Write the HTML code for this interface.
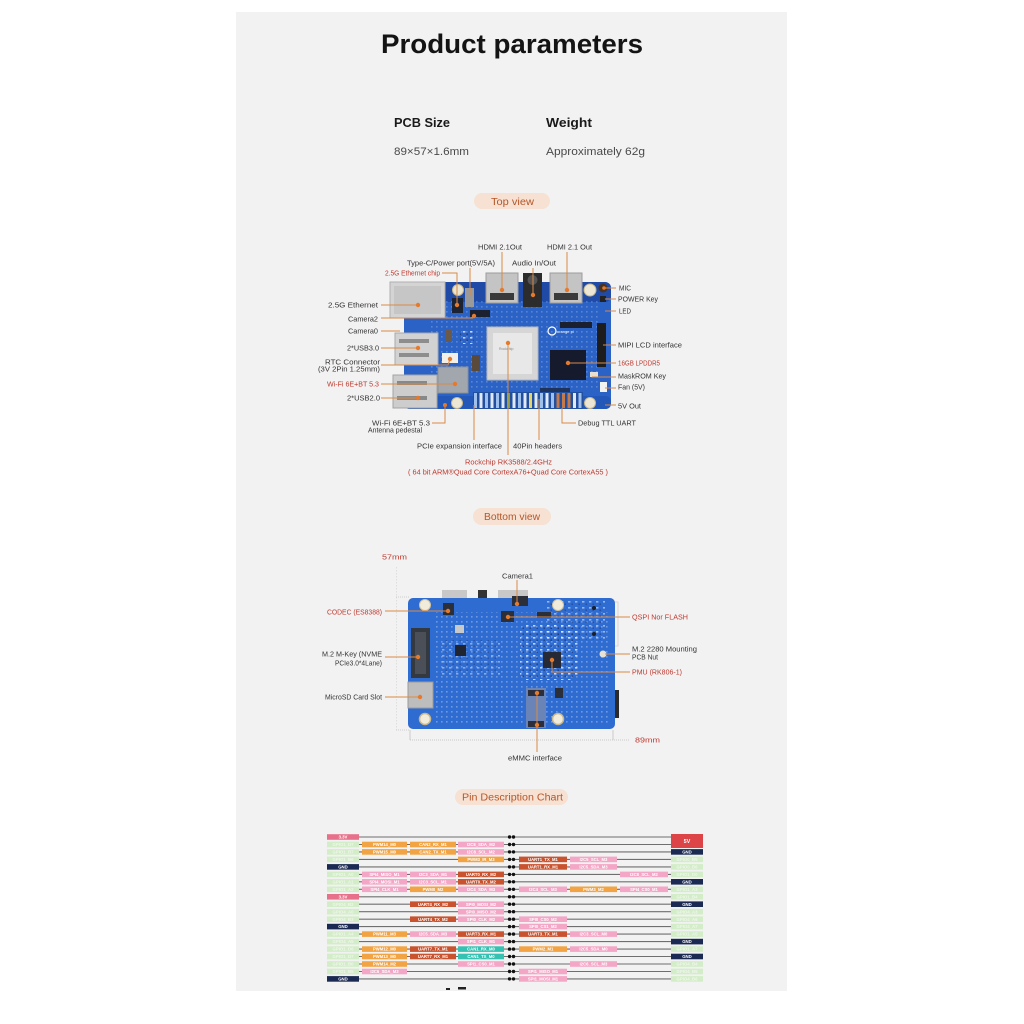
<!DOCTYPE html>
<html>
<head>
<meta charset="utf-8">
<style>
  html,body{margin:0;padding:0;background:#ffffff;}
  body{width:1024px;height:1024px;overflow:hidden;position:relative;}
  svg{position:absolute;left:0;top:0;}
  text{font-family:"Liberation Sans", "DejaVu Sans", sans-serif;}
</style>
</head>
<body>
<svg width="1024" height="1024" viewBox="0 0 1024 1024" xmlns="http://www.w3.org/2000/svg">
  <defs>
    <pattern id="pads" width="5" height="5" patternUnits="userSpaceOnUse">
      <rect x="1" y="1" width="1.6" height="1.6" fill="#d9e4f5" opacity="0.75"/>
    </pattern>
    <pattern id="pads2" width="7" height="6" patternUnits="userSpaceOnUse">
      <rect x="1" y="1" width="2.4" height="1.6" fill="#e8eef8" opacity="0.8"/>
      <rect x="4.5" y="3.5" width="1.4" height="1.4" fill="#1c2f66" opacity="0.8"/>
    </pattern>
    <pattern id="dotv" width="2" height="3" patternUnits="userSpaceOnUse">
      <rect x="0" y="0" width="1" height="1.5" fill="#c9c9c9"/>
    </pattern>
  </defs>

  <!-- panel -->
  <rect x="236" y="12" width="551" height="979" fill="#f2f2f2"/>

  <!-- title -->
  <text x="381" y="53" font-size="27" font-weight="bold" fill="#141414" textLength="262" lengthAdjust="spacingAndGlyphs">Product parameters</text>

  <text x="394" y="127" font-size="13" font-weight="bold" fill="#1a1a1a" textLength="56" lengthAdjust="spacingAndGlyphs">PCB Size</text>
  <text x="546" y="127" font-size="13" font-weight="bold" fill="#1a1a1a" textLength="46" lengthAdjust="spacingAndGlyphs">Weight</text>
  <text x="394" y="155" font-size="11" fill="#4a4a4a" textLength="75" lengthAdjust="spacingAndGlyphs">89×57×1.6mm</text>
  <text x="546" y="155" font-size="11" fill="#4a4a4a" textLength="99" lengthAdjust="spacingAndGlyphs">Approximately 62g</text>

  <!-- Top view pill -->
  <rect x="474" y="193" width="76" height="16" rx="8" fill="#f6e1d2"/>
  <text x="491" y="205" font-size="10" fill="#b5572a" textLength="43" lengthAdjust="spacingAndGlyphs">Top view</text>

  <!-- ================= TOP VIEW BOARD ================= -->
  <g>
    <rect x="404" y="282" width="207" height="127" rx="6" fill="#2b62c6"/>
    <rect x="404" y="282" width="207" height="20" rx="6" fill="#1f4aa6"/>
    <rect x="404" y="396" width="207" height="13" rx="5" fill="#2458b8"/>
    <rect x="430" y="300" width="170" height="90" fill="url(#pads)" opacity="0.35"/>
    <!-- ethernet -->
    <rect x="390" y="282" width="55" height="36" fill="#d4d4d4" stroke="#b0b0b0" stroke-width="1"/>
    <rect x="394" y="286" width="47" height="28" fill="#c6c6c6"/>
    <!-- usb3 -->
    <rect x="395" y="333" width="43" height="32" fill="#d2d2d2" stroke="#a9a9a9" stroke-width="1"/>
    <rect x="399" y="339" width="30" height="4" fill="#8d8d8d"/>
    <rect x="399" y="353" width="30" height="4" fill="#8d8d8d"/>
    <!-- usb2 -->
    <rect x="393" y="375" width="44" height="33" fill="#cdcdcd" stroke="#a4a4a4" stroke-width="1"/>
    <rect x="397" y="381" width="30" height="4" fill="#888"/>
    <rect x="397" y="396" width="30" height="4" fill="#888"/>
    <!-- top connectors -->
    <rect x="465" y="288" width="9" height="19" fill="#9a9a9a"/>
    <rect x="452" y="298" width="11" height="15" fill="#1c2433"/>
    <circle cx="458" cy="290" r="5.5" fill="#e9e3cf" stroke="#c9b98a" stroke-width="1"/>
    <rect x="486" y="273" width="32" height="30" fill="#c4c4c4" stroke="#9c9c9c" stroke-width="1"/>
    <rect x="490" y="293" width="24" height="7" fill="#3a3a3a"/>
    <rect x="523" y="273" width="19" height="34" fill="#2c2c2c"/>
    <circle cx="532.5" cy="280" r="5" fill="#555"/>
    <rect x="550" y="273" width="32" height="30" fill="#c4c4c4" stroke="#9c9c9c" stroke-width="1"/>
    <rect x="554" y="293" width="24" height="7" fill="#3a3a3a"/>
    <circle cx="590" cy="290" r="6" fill="#ece6d5" stroke="#c9b98a" stroke-width="1"/>
    <circle cx="603" cy="288" r="4.5" fill="#4a3320"/>
    <rect x="600" y="296" width="6" height="6" fill="#222"/>
    <rect x="470" y="310" width="20" height="7" fill="#1b2130"/>
    <!-- small parts -->
    <rect x="446" y="330" width="6" height="12" fill="#6b5a4a"/>
    <rect x="460" y="330" width="14" height="14" fill="url(#pads2)"/>
    <rect x="442" y="353" width="16" height="10" fill="#f1efe8"/>
    <rect x="438" y="367" width="30" height="26" fill="#a2a7ae" stroke="#8b9096" stroke-width="1"/>
    <rect x="472" y="355" width="8" height="16" fill="#5a4a3c"/>
    <rect x="560" y="322" width="32" height="6" fill="#1a2030"/>
    <rect x="540" y="388" width="30" height="4" fill="#1a2030" opacity="0.7"/>
    <!-- SoC -->
    <rect x="487" y="327" width="51" height="53" fill="#d6d6d6" stroke="#b5b5b5" stroke-width="1"/>
    <rect x="493" y="333" width="39" height="41" fill="#e8e8e8"/>
    <text x="499" y="350" font-size="3.5" fill="#888">Rockchip</text>
    <!-- logo -->
    <circle cx="552" cy="331" r="4" fill="none" stroke="#ffffff" stroke-width="1.2"/>
    <text x="557" y="333" font-size="4" fill="#ffffff">orange pi</text>
    <!-- RAM -->
    <rect x="550" y="350" width="36" height="30" fill="#151b2d"/>
    <!-- MIPI -->
    <rect x="597" y="323" width="9" height="44" fill="#1d1d1d"/>
    <rect x="590" y="372" width="8" height="5" fill="#e6e0d0"/>
    <rect x="600" y="382" width="7" height="10" fill="#f2f2f2"/>
    <!-- holes bottom -->
    <circle cx="457" cy="403" r="5.5" fill="#ece6d5" stroke="#c9b98a" stroke-width="1"/>
    <circle cx="590" cy="403" r="5.5" fill="#ece6d5" stroke="#c9b98a" stroke-width="1"/>
    <!-- 40 pin header -->
    <g>
      <rect x="473" y="392" width="110" height="17" fill="#224f9e"/>
      <rect x="474" y="393" width="3" height="15" fill="#9ec0ec"/>
      <rect x="479.5" y="393" width="3" height="15" fill="#dfe9f7"/>
      <rect x="485" y="393" width="3" height="15" fill="#9ec0ec"/>
      <rect x="490.5" y="393" width="3" height="15" fill="#dfe9f7"/>
      <rect x="496" y="393" width="3" height="15" fill="#9ec0ec"/>
      <rect x="501.5" y="393" width="3" height="15" fill="#dfe9f7"/>
      <rect x="507" y="393" width="3" height="15" fill="#63b04a"/>
      <rect x="512.5" y="393" width="3" height="15" fill="#dfe9f7"/>
      <rect x="518" y="393" width="3" height="15" fill="#9ec0ec"/>
      <rect x="523.5" y="393" width="3" height="15" fill="#dfe9f7"/>
      <rect x="529" y="393" width="3" height="15" fill="#e6d66a"/>
      <rect x="534.5" y="393" width="3" height="15" fill="#dfe9f7"/>
      <rect x="540" y="393" width="3" height="15" fill="#9ec0ec"/>
      <rect x="545.5" y="393" width="3" height="15" fill="#dfe9f7"/>
      <rect x="551" y="393" width="3" height="15" fill="#9ec0ec"/>
      <rect x="556.5" y="393" width="3" height="15" fill="#c47a4a"/>
      <rect x="562" y="393" width="3" height="15" fill="#c47a4a"/>
      <rect x="567.5" y="393" width="3" height="15" fill="#c47a4a"/>
      <rect x="573" y="393" width="3" height="15" fill="#dfe9f7"/>
      <rect x="578.5" y="393" width="3" height="15" fill="#9ec0ec"/>
    </g>
  </g>

  <!-- top view leader lines -->
  <g stroke="#d98a46" stroke-width="1" fill="none">
    <polyline points="502,252 502,290"/>
    <polyline points="567,252 567,290"/>
    <polyline points="533,268 533,295"/>
    <polyline points="470,268 470,296"/>
    <polyline points="442,273 457,273 457,305"/>
    <polyline points="381,305 418,305"/>
    <polyline points="381,318 473,318"/>
    <polyline points="381,331 400,331"/>
    <polyline points="381,348 418,348"/>
    <polyline points="381,365 448,365 450,359"/>
    <polyline points="381,384 455,384"/>
    <polyline points="381,398 418,398"/>
    <polyline points="432,423 445,423 445,405"/>
    <polyline points="474,440 474,405"/>
    <polyline points="508,455 508,343"/>
    <polyline points="539,440 539,399"/>
    <polyline points="576,423 562,423 562,408"/>
    <polyline points="616,288 604,288"/>
    <polyline points="616,299 605,299"/>
    <polyline points="616,311 605,311"/>
    <polyline points="616,345 603,345"/>
    <polyline points="616,363 568,363"/>
    <polyline points="616,377 592,377"/>
    <polyline points="616,388 605,388"/>
    <polyline points="616,405 605,405"/>
  </g>
  <g fill="#e57a2c">
    <circle cx="502" cy="290" r="2.2"/>
    <circle cx="567" cy="290" r="2.2"/>
    <circle cx="533" cy="295" r="2.2"/>
    <circle cx="457" cy="305" r="2.2"/>
    <circle cx="418" cy="305" r="2.2"/>
    <circle cx="474" cy="316" r="2.2"/>
    <circle cx="418" cy="348" r="2.2"/>
    <circle cx="450" cy="359" r="2.2"/>
    <circle cx="455" cy="384" r="2.2"/>
    <circle cx="418" cy="398" r="2.2"/>
    <circle cx="445" cy="405" r="2"/>
    <circle cx="508" cy="343" r="2.2"/>
    <circle cx="568" cy="363" r="2.2"/>
    <circle cx="604" cy="288" r="1.8"/>
  </g>

  <!-- top view labels -->
  <g font-size="7.5" fill="#333">
    <text x="478" y="249.5" textLength="44" lengthAdjust="spacingAndGlyphs">HDMI 2.1Out</text>
    <text x="547" y="249.5" textLength="45" lengthAdjust="spacingAndGlyphs">HDMI 2.1 Out</text>
    <text x="407" y="265.5" textLength="88" lengthAdjust="spacingAndGlyphs">Type-C/Power port(5V/5A)</text>
    <text x="512" y="265.5" textLength="44" lengthAdjust="spacingAndGlyphs">Audio In/Out</text>
    <text x="385" y="275.5" fill="#c0392f" textLength="55" lengthAdjust="spacingAndGlyphs">2.5G Ethernet chip</text>
    <text x="328" y="307.5" textLength="50" lengthAdjust="spacingAndGlyphs">2.5G Ethernet</text>
    <text x="348" y="321.5" textLength="30" lengthAdjust="spacingAndGlyphs">Camera2</text>
    <text x="348" y="333.5" textLength="30" lengthAdjust="spacingAndGlyphs">Camera0</text>
    <text x="347" y="350.5" textLength="32" lengthAdjust="spacingAndGlyphs">2*USB3.0</text>
    <text x="325" y="364.5" textLength="55" lengthAdjust="spacingAndGlyphs">RTC Connector</text>
    <text x="318" y="371.5" textLength="62" lengthAdjust="spacingAndGlyphs">(3V 2Pin 1.25mm)</text>
    <text x="327" y="386.5" fill="#c0392f" textLength="52" lengthAdjust="spacingAndGlyphs">Wi-Fi 6E+BT 5.3</text>
    <text x="347" y="400.5" textLength="33" lengthAdjust="spacingAndGlyphs">2*USB2.0</text>
    <text x="372" y="425.5" textLength="58" lengthAdjust="spacingAndGlyphs">Wi-Fi 6E+BT 5.3</text>
    <text x="368" y="432.5" textLength="54" lengthAdjust="spacingAndGlyphs">Antenna pedestal</text>
    <text x="417" y="448.5" textLength="85" lengthAdjust="spacingAndGlyphs">PCIe expansion interface</text>
    <text x="513" y="448.5" textLength="49" lengthAdjust="spacingAndGlyphs">40Pin headers</text>
    <text x="465" y="464.5" fill="#c0392f" textLength="87" lengthAdjust="spacingAndGlyphs">Rockchip RK3588/2.4GHz</text>
    <text x="408" y="474.5" fill="#c0392f" textLength="200" lengthAdjust="spacingAndGlyphs">( 64 bit ARM®Quad Core CortexA76+Quad Core CortexA55 )</text>
    <text x="619" y="290.5" textLength="12" lengthAdjust="spacingAndGlyphs">MIC</text>
    <text x="618" y="301.5" textLength="40" lengthAdjust="spacingAndGlyphs">POWER Key</text>
    <text x="619" y="313.5" textLength="12" lengthAdjust="spacingAndGlyphs">LED</text>
    <text x="618" y="347.5" textLength="64" lengthAdjust="spacingAndGlyphs">MIPI LCD interface</text>
    <text x="618" y="365.5" fill="#c0392f" textLength="42" lengthAdjust="spacingAndGlyphs">16GB LPDDR5</text>
    <text x="618" y="378.5" textLength="48" lengthAdjust="spacingAndGlyphs">MaskROM Key</text>
    <text x="618" y="389.5" textLength="27" lengthAdjust="spacingAndGlyphs">Fan (5V)</text>
    <text x="618" y="408.5" textLength="23" lengthAdjust="spacingAndGlyphs">5V Out</text>
    <text x="578" y="425.5" textLength="58" lengthAdjust="spacingAndGlyphs">Debug TTL UART</text>
  </g>

  <!-- Bottom view pill -->
  <rect x="473" y="508" width="78" height="17" rx="8.5" fill="#f6e1d2"/>
  <text x="484" y="520" font-size="10" fill="#b5572a" textLength="56" lengthAdjust="spacingAndGlyphs">Bottom view</text>

  <!-- ================= BOTTOM VIEW BOARD ================= -->
  <g>
    <!-- dimension dotted lines -->
    <rect x="395.5" y="566" width="1" height="165" fill="url(#dotv)"/>
    <line x1="396" y1="597" x2="410" y2="597" stroke="#cfcfcf" stroke-width="1" stroke-dasharray="1,1"/>
    <line x1="396" y1="730" x2="410" y2="730" stroke="#cfcfcf" stroke-width="1" stroke-dasharray="1,1"/>
    <line x1="410" y1="740" x2="630" y2="740" stroke="#c9c9c9" stroke-width="1" stroke-dasharray="1,1"/>
    <line x1="410" y1="730" x2="410" y2="740" stroke="#c9c9c9" stroke-width="1"/>
    <line x1="613" y1="730" x2="613" y2="740" stroke="#c9c9c9" stroke-width="1"/>

    <!-- top edge connectors -->
    <rect x="442" y="590" width="25" height="9" fill="#c8c8c8"/>
    <rect x="478" y="590" width="9" height="9" fill="#333"/>
    <rect x="498" y="590" width="30" height="9" fill="#c8c8c8"/>
    <rect x="613" y="602" width="5" height="44" fill="#f2f2f2" stroke="#cfcfcf" stroke-width="0.8"/>
    <rect x="613" y="690" width="6" height="28" fill="#2b2b2b"/>

    <rect x="408" y="598" width="207" height="131" rx="5" fill="#2f6cd2"/>
    <rect x="435" y="612" width="175" height="112" fill="url(#pads)" opacity="0.5"/>
    <rect x="520" y="625" width="58" height="55" rx="6" fill="url(#pads2)"/>
    <rect x="545" y="600" width="60" height="40" fill="url(#pads2)" opacity="0.7"/>
    <rect x="440" y="640" width="60" height="35" fill="url(#pads2)" opacity="0.6"/>
    <!-- holes -->
    <circle cx="425" cy="605" r="5.5" fill="#f1ebdb" stroke="#d4c49a" stroke-width="1"/>
    <circle cx="558" cy="605" r="5.5" fill="#f1ebdb" stroke="#d4c49a" stroke-width="1"/>
    <circle cx="425" cy="719" r="5.5" fill="#f1ebdb" stroke="#c9b98a" stroke-width="1.5"/>
    <circle cx="558" cy="719" r="5.5" fill="#f1ebdb" stroke="#c9b98a" stroke-width="1.5"/>
    <!-- M.2 -->
    <rect x="411" y="628" width="19" height="50" fill="#34383f"/>
    <rect x="415" y="632" width="11" height="42" fill="#4b5058"/>
    <!-- SD -->
    <rect x="408" y="682" width="25" height="26" fill="#bdbdbd" stroke="#9a9a9a" stroke-width="1"/>
    <!-- chips -->
    <rect x="443" y="603" width="11" height="12" fill="#2a2f3a"/>
    <rect x="455" y="625" width="9" height="8" fill="#c9c9c9"/>
    <rect x="455" y="645" width="11" height="11" fill="#202532"/>
    <rect x="512" y="596" width="16" height="10" fill="#2a2f3a"/>
    <rect x="501" y="611" width="13" height="11" fill="#2a2f3a"/>
    <rect x="537" y="612" width="14" height="6" fill="#2a2f3a"/>
    <rect x="543" y="652" width="18" height="16" fill="#262a36"/>
    <rect x="526" y="688" width="20" height="40" fill="#6a84b8"/>
    <rect x="528" y="690" width="16" height="6" fill="#2c2f3a"/>
    <rect x="528" y="721" width="16" height="6" fill="#2c2f3a"/>
    <rect x="555" y="688" width="8" height="10" fill="#2a2f3a"/>
    <circle cx="603" cy="654" r="3.5" fill="#e8e2d5"/>
    <circle cx="594" cy="608" r="2" fill="#1a1f2a"/>
    <circle cx="594" cy="634" r="2" fill="#1a1f2a"/>
  </g>

  <!-- bottom leaders -->
  <g stroke="#d98a46" stroke-width="1" fill="none">
    <polyline points="517,580 517,604"/>
    <polyline points="385,611 448,611"/>
    <polyline points="508,617 630,617"/>
    <polyline points="385,657 418,657"/>
    <polyline points="605,654 630,654"/>
    <polyline points="552,660 552,672 630,672"/>
    <polyline points="385,697 420,697"/>
    <polyline points="537,693 537,752"/>
  </g>
  <g fill="#e57a2c">
    <circle cx="517" cy="604" r="2.2"/>
    <circle cx="448" cy="611" r="2.2"/>
    <circle cx="508" cy="617" r="2.2"/>
    <circle cx="418" cy="657" r="2.2"/>
    <circle cx="552" cy="660" r="2.2"/>
    <circle cx="420" cy="697" r="2.2"/>
    <circle cx="537" cy="693" r="2.2"/>
    <circle cx="537" cy="725" r="2.2"/>
  </g>

  <g font-size="7.5" fill="#333">
    <text x="382" y="559.5" fill="#c0392f" textLength="25" lengthAdjust="spacingAndGlyphs">57mm</text>
    <text x="502" y="578.5" textLength="31" lengthAdjust="spacingAndGlyphs">Camera1</text>
    <text x="327" y="614.5" fill="#c0392f" textLength="55" lengthAdjust="spacingAndGlyphs">CODEC (ES8388)</text>
    <text x="632" y="619.5" fill="#c0392f" textLength="56" lengthAdjust="spacingAndGlyphs">QSPI Nor FLASH</text>
    <text x="322" y="656.5" textLength="60" lengthAdjust="spacingAndGlyphs">M.2 M-Key (NVME</text>
    <text x="335" y="665.5" textLength="47" lengthAdjust="spacingAndGlyphs">PCIe3.0*4Lane)</text>
    <text x="632" y="651.5" textLength="65" lengthAdjust="spacingAndGlyphs">M.2 2280 Mounting</text>
    <text x="632" y="659.5" textLength="26" lengthAdjust="spacingAndGlyphs">PCB Nut</text>
    <text x="632" y="674.5" fill="#c0392f" textLength="50" lengthAdjust="spacingAndGlyphs">PMU (RK806-1)</text>
    <text x="325" y="699.5" textLength="57" lengthAdjust="spacingAndGlyphs">MicroSD Card Slot</text>
    <text x="635" y="742.5" fill="#c0392f" textLength="25" lengthAdjust="spacingAndGlyphs">89mm</text>
    <text x="508" y="760.5" textLength="54" lengthAdjust="spacingAndGlyphs">eMMC interface</text>
  </g>

  <!-- Pin Description Chart pill -->
  <rect x="455" y="789" width="113" height="16" rx="8" fill="#f6e1d2"/>
  <text x="462" y="800.5" font-size="10" fill="#b5572a" textLength="101" lengthAdjust="spacingAndGlyphs">Pin Description Chart</text>

  <!-- ================= PIN CHART ================= -->
  <g stroke="#6f6f6f" stroke-width="1.1">
    <line x1="359" y1="837.0" x2="671" y2="837.0"/>
    <line x1="359" y1="844.5" x2="671" y2="844.5"/>
    <line x1="359" y1="851.9" x2="671" y2="851.9"/>
    <line x1="359" y1="859.4" x2="671" y2="859.4"/>
    <line x1="359" y1="866.9" x2="671" y2="866.9"/>
    <line x1="359" y1="874.4" x2="671" y2="874.4"/>
    <line x1="359" y1="881.8" x2="671" y2="881.8"/>
    <line x1="359" y1="889.3" x2="671" y2="889.3"/>
    <line x1="359" y1="896.8" x2="671" y2="896.8"/>
    <line x1="359" y1="904.2" x2="671" y2="904.2"/>
    <line x1="359" y1="911.7" x2="671" y2="911.7"/>
    <line x1="359" y1="919.2" x2="671" y2="919.2"/>
    <line x1="359" y1="926.6" x2="671" y2="926.6"/>
    <line x1="359" y1="934.1" x2="671" y2="934.1"/>
    <line x1="359" y1="941.6" x2="671" y2="941.6"/>
    <line x1="359" y1="949.1" x2="671" y2="949.1"/>
    <line x1="359" y1="956.5" x2="671" y2="956.5"/>
    <line x1="359" y1="964.0" x2="671" y2="964.0"/>
    <line x1="359" y1="971.5" x2="671" y2="971.5"/>
    <line x1="359" y1="978.9" x2="671" y2="978.9"/>
  </g>

  <!-- center dots -->
  <g fill="#111">
    <circle cx="509.5" cy="837.0" r="1.7"/><circle cx="513.5" cy="837.0" r="1.7"/>
    <circle cx="509.5" cy="844.5" r="1.7"/><circle cx="513.5" cy="844.5" r="1.7"/>
    <circle cx="509.5" cy="851.9" r="1.7"/><circle cx="513.5" cy="851.9" r="1.7"/>
    <circle cx="509.5" cy="859.4" r="1.7"/><circle cx="513.5" cy="859.4" r="1.7"/>
    <circle cx="509.5" cy="866.9" r="1.7"/><circle cx="513.5" cy="866.9" r="1.7"/>
    <circle cx="509.5" cy="874.4" r="1.7"/><circle cx="513.5" cy="874.4" r="1.7"/>
    <circle cx="509.5" cy="881.8" r="1.7"/><circle cx="513.5" cy="881.8" r="1.7"/>
    <circle cx="509.5" cy="889.3" r="1.7"/><circle cx="513.5" cy="889.3" r="1.7"/>
    <circle cx="509.5" cy="896.8" r="1.7"/><circle cx="513.5" cy="896.8" r="1.7"/>
    <circle cx="509.5" cy="904.2" r="1.7"/><circle cx="513.5" cy="904.2" r="1.7"/>
    <circle cx="509.5" cy="911.7" r="1.7"/><circle cx="513.5" cy="911.7" r="1.7"/>
    <circle cx="509.5" cy="919.2" r="1.7"/><circle cx="513.5" cy="919.2" r="1.7"/>
    <circle cx="509.5" cy="926.6" r="1.7"/><circle cx="513.5" cy="926.6" r="1.7"/>
    <circle cx="509.5" cy="934.1" r="1.7"/><circle cx="513.5" cy="934.1" r="1.7"/>
    <circle cx="509.5" cy="941.6" r="1.7"/><circle cx="513.5" cy="941.6" r="1.7"/>
    <circle cx="509.5" cy="949.1" r="1.7"/><circle cx="513.5" cy="949.1" r="1.7"/>
    <circle cx="509.5" cy="956.5" r="1.7"/><circle cx="513.5" cy="956.5" r="1.7"/>
    <circle cx="509.5" cy="964.0" r="1.7"/><circle cx="513.5" cy="964.0" r="1.7"/>
    <circle cx="509.5" cy="971.5" r="1.7"/><circle cx="513.5" cy="971.5" r="1.7"/>
    <circle cx="509.5" cy="978.9" r="1.7"/><circle cx="513.5" cy="978.9" r="1.7"/>
  </g>

  <!-- left column boxes -->
  <g>
    <rect x="327" y="834.2" width="32" height="5.6" fill="#e7708a"/>
    <rect x="327" y="841.7" width="32" height="5.6" fill="#d3edc8"/>
    <rect x="327" y="849.1" width="32" height="5.6" fill="#d3edc8"/>
    <rect x="327" y="856.6" width="32" height="5.6" fill="#d3edc8"/>
    <rect x="327" y="864.1" width="32" height="5.6" fill="#1b2a52"/>
    <rect x="327" y="871.6" width="32" height="5.6" fill="#d3edc8"/>
    <rect x="327" y="879.0" width="32" height="5.6" fill="#d3edc8"/>
    <rect x="327" y="886.5" width="32" height="5.6" fill="#d3edc8"/>
    <rect x="327" y="894.0" width="32" height="5.6" fill="#e7708a"/>
    <rect x="327" y="901.4" width="32" height="5.6" fill="#d3edc8"/>
    <rect x="327" y="908.9" width="32" height="5.6" fill="#d3edc8"/>
    <rect x="327" y="916.4" width="32" height="5.6" fill="#d3edc8"/>
    <rect x="327" y="923.8" width="32" height="5.6" fill="#1b2a52"/>
    <rect x="327" y="931.3" width="32" height="5.6" fill="#d3edc8"/>
    <rect x="327" y="938.8" width="32" height="5.6" fill="#d3edc8"/>
    <rect x="327" y="946.3" width="32" height="5.6" fill="#d3edc8"/>
    <rect x="327" y="953.7" width="32" height="5.6" fill="#d3edc8"/>
    <rect x="327" y="961.2" width="32" height="5.6" fill="#d3edc8"/>
    <rect x="327" y="968.7" width="32" height="5.6" fill="#d3edc8"/>
    <rect x="327" y="976.1" width="32" height="5.6" fill="#1b2a52"/>
  </g>
  <g font-size="4.3" font-weight="bold" text-anchor="middle">
    <text x="343" y="838.6" fill="#fff">3.3V</text>
    <text x="343" y="846.1" fill="#eef7ea">GPIO1_D7</text>
    <text x="343" y="853.5" fill="#eef7ea">GPIO1_B7</text>
    <text x="343" y="861.0" fill="#eef7ea">GPIO1_B6</text>
    <text x="343" y="868.5" fill="#fff">GND</text>
    <text x="343" y="876.0" fill="#eef7ea">GPIO1_A0</text>
    <text x="343" y="883.4" fill="#eef7ea">GPIO1_A1</text>
    <text x="343" y="890.9" fill="#eef7ea">GPIO1_A2</text>
    <text x="343" y="898.4" fill="#fff">3.3V</text>
    <text x="343" y="905.8" fill="#eef7ea">GPIO4_B2</text>
    <text x="343" y="913.3" fill="#eef7ea">GPIO4_A0</text>
    <text x="343" y="920.8" fill="#eef7ea">GPIO4_B3</text>
    <text x="343" y="928.2" fill="#fff">GND</text>
    <text x="343" y="935.7" fill="#eef7ea">GPIO1_A4</text>
    <text x="343" y="943.2" fill="#eef7ea">GPIO4_A5</text>
    <text x="343" y="950.7" fill="#eef7ea">GPIO1_D6</text>
    <text x="343" y="958.1" fill="#eef7ea">GPIO1_D7</text>
    <text x="343" y="965.6" fill="#eef7ea">GPIO1_B0</text>
    <text x="343" y="973.1" fill="#eef7ea">GPIO1_B5</text>
    <text x="343" y="980.5" fill="#fff">GND</text>
  </g>

  <!-- right column boxes -->
  <g>
    <rect x="671" y="834" width="32" height="14" fill="#dc4448"/>
    <rect x="671" y="849.1" width="32" height="5.6" fill="#1b2a52"/>
    <rect x="671" y="856.6" width="32" height="5.6" fill="#d3edc8"/>
    <rect x="671" y="864.1" width="32" height="5.6" fill="#d3edc8"/>
    <rect x="671" y="871.6" width="32" height="5.6" fill="#d3edc8"/>
    <rect x="671" y="879.0" width="32" height="5.6" fill="#1b2a52"/>
    <rect x="671" y="886.5" width="32" height="5.6" fill="#d3edc8"/>
    <rect x="671" y="894.0" width="32" height="5.6" fill="#d3edc8"/>
    <rect x="671" y="901.4" width="32" height="5.6" fill="#1b2a52"/>
    <rect x="671" y="908.9" width="32" height="5.6" fill="#d3edc8"/>
    <rect x="671" y="916.4" width="32" height="5.6" fill="#d3edc8"/>
    <rect x="671" y="923.8" width="32" height="5.6" fill="#d3edc8"/>
    <rect x="671" y="931.3" width="32" height="5.6" fill="#d3edc8"/>
    <rect x="671" y="938.8" width="32" height="5.6" fill="#1b2a52"/>
    <rect x="671" y="946.3" width="32" height="5.6" fill="#d3edc8"/>
    <rect x="671" y="953.7" width="32" height="5.6" fill="#1b2a52"/>
    <rect x="671" y="961.2" width="32" height="5.6" fill="#d3edc8"/>
    <rect x="671" y="968.7" width="32" height="5.6" fill="#d3edc8"/>
    <rect x="671" y="976.1" width="32" height="5.6" fill="#d3edc8"/>
  </g>
  <g font-size="4.3" font-weight="bold" text-anchor="middle">
    <text x="687" y="843" fill="#fff" font-size="5.5">5V</text>
    <text x="687" y="853.5" fill="#fff">GND</text>
    <text x="687" y="861.0" fill="#eef7ea">GPIO0_B5</text>
    <text x="687" y="868.5" fill="#eef7ea">GPIO0_B6</text>
    <text x="687" y="876.0" fill="#eef7ea">GPIO1_D0</text>
    <text x="687" y="883.4" fill="#fff">GND</text>
    <text x="687" y="890.9" fill="#eef7ea">GPIO1_A3</text>
    <text x="687" y="898.4" fill="#eef7ea">GPIO1_B4</text>
    <text x="687" y="905.8" fill="#fff">GND</text>
    <text x="687" y="913.3" fill="#eef7ea">GPIO4_A3</text>
    <text x="687" y="920.8" fill="#eef7ea">GPIO4_A6</text>
    <text x="687" y="928.2" fill="#eef7ea">GPIO4_A7</text>
    <text x="687" y="935.7" fill="#eef7ea">GPIO1_A5</text>
    <text x="687" y="943.2" fill="#fff">GND</text>
    <text x="687" y="950.7" fill="#eef7ea">GPIO1_A7</text>
    <text x="687" y="958.1" fill="#fff">GND</text>
    <text x="687" y="965.6" fill="#eef7ea">GPIO4_B4</text>
    <text x="687" y="973.1" fill="#eef7ea">GPIO4_B5</text>
    <text x="687" y="980.5" fill="#eef7ea">GPIO4_B6</text>
  </g>

  <!-- function tags (left) -->
  <g>
    <!-- r2 -->
    <rect x="362" y="841.7" width="45" height="5.6" fill="#f2a444"/>
    <rect x="410" y="841.7" width="46" height="5.6" fill="#f2a444"/>
    <rect x="458" y="841.7" width="46" height="5.6" fill="#f4a6c6"/>
    <!-- r3 -->
    <rect x="362" y="849.1" width="45" height="5.6" fill="#f2a444"/>
    <rect x="410" y="849.1" width="46" height="5.6" fill="#f2a444"/>
    <rect x="458" y="849.1" width="46" height="5.6" fill="#f4a6c6"/>
    <!-- r4 -->
    <rect x="458" y="856.6" width="46" height="5.6" fill="#f2a444"/>
    <!-- r6 -->
    <rect x="362" y="871.6" width="45" height="5.6" fill="#f4a6c6"/>
    <rect x="410" y="871.6" width="46" height="5.6" fill="#f4a6c6"/>
    <rect x="458" y="871.6" width="46" height="5.6" fill="#c8532e"/>
    <!-- r7 -->
    <rect x="362" y="879.0" width="45" height="5.6" fill="#f4a6c6"/>
    <rect x="410" y="879.0" width="46" height="5.6" fill="#f4a6c6"/>
    <rect x="458" y="879.0" width="46" height="5.6" fill="#c8532e"/>
    <!-- r8 -->
    <rect x="362" y="886.5" width="45" height="5.6" fill="#f4a6c6"/>
    <rect x="410" y="886.5" width="46" height="5.6" fill="#f2a444"/>
    <rect x="458" y="886.5" width="46" height="5.6" fill="#f4a6c6"/>
    <!-- r10 -->
    <rect x="410" y="901.4" width="46" height="5.6" fill="#c8532e"/>
    <rect x="458" y="901.4" width="46" height="5.6" fill="#f4a6c6"/>
    <!-- r11 -->
    <rect x="458" y="908.9" width="46" height="5.6" fill="#f4a6c6"/>
    <!-- r12 -->
    <rect x="410" y="916.4" width="46" height="5.6" fill="#c8532e"/>
    <rect x="458" y="916.4" width="46" height="5.6" fill="#f4a6c6"/>
    <!-- r14 -->
    <rect x="362" y="931.3" width="45" height="5.6" fill="#f2a444"/>
    <rect x="410" y="931.3" width="46" height="5.6" fill="#f4a6c6"/>
    <rect x="458" y="931.3" width="46" height="5.6" fill="#c8532e"/>
    <!-- r15 -->
    <rect x="458" y="938.8" width="46" height="5.6" fill="#f4a6c6"/>
    <!-- r16 -->
    <rect x="362" y="946.3" width="45" height="5.6" fill="#f2a444"/>
    <rect x="410" y="946.3" width="46" height="5.6" fill="#c8532e"/>
    <rect x="458" y="946.3" width="46" height="5.6" fill="#35c2b2"/>
    <!-- r17 -->
    <rect x="362" y="953.7" width="45" height="5.6" fill="#f2a444"/>
    <rect x="410" y="953.7" width="46" height="5.6" fill="#c8532e"/>
    <rect x="458" y="953.7" width="46" height="5.6" fill="#35c2b2"/>
    <!-- r18 -->
    <rect x="362" y="961.2" width="45" height="5.6" fill="#f2a444"/>
    <rect x="458" y="961.2" width="46" height="5.6" fill="#f4a6c6"/>
    <!-- r19 -->
    <rect x="362" y="968.7" width="45" height="5.6" fill="#f4a6c6"/>
  </g>
  <g font-size="4.2" font-weight="bold" fill="#fff" text-anchor="middle">
    <text x="384.5" y="846.1">PWM14_M0</text><text x="433" y="846.1">CAN2_RX_M1</text><text x="481" y="846.1">I2C8_SDA_M2</text>
    <text x="384.5" y="853.5">PWM15_M0</text><text x="433" y="853.5">CAN2_TX_M1</text><text x="481" y="853.5">I2C8_SCL_M2</text>
    <text x="481" y="861.0">PWM3_IR_M3</text>
    <text x="384.5" y="876.0">SPI4_MISO_M1</text><text x="433" y="876.0">I2C3_SDA_M1</text><text x="481" y="876.0">UART0_RX_M2</text>
    <text x="384.5" y="883.4">SPI4_MOSI_M1</text><text x="433" y="883.4">I2C3_SCL_M1</text><text x="481" y="883.4">UART0_TX_M2</text>
    <text x="384.5" y="890.9">SPI4_CLK_M1</text><text x="433" y="890.9">PWM0_M2</text><text x="481" y="890.9">I2C4_SDA_M3</text>
    <text x="433" y="905.8">UART4_RX_M2</text><text x="481" y="905.8">SPI0_MOSI_M2</text>
    <text x="481" y="913.3">SPI0_MISO_M2</text>
    <text x="433" y="920.8">UART4_TX_M2</text><text x="481" y="920.8">SPI0_CLK_M2</text>
    <text x="384.5" y="935.7">PWM11_M3</text><text x="433" y="935.7">I2C5_SDA_M3</text><text x="481" y="935.7">UART3_RX_M1</text>
    <text x="481" y="943.2">SPI1_CLK_M1</text>
    <text x="384.5" y="950.7">PWM12_M0</text><text x="433" y="950.7">UART7_TX_M1</text><text x="481" y="950.7">CAN1_RX_M0</text>
    <text x="384.5" y="958.1">PWM13_M0</text><text x="433" y="958.1">UART7_RX_M1</text><text x="481" y="958.1">CAN1_TX_M0</text>
    <text x="384.5" y="965.6">PWM14_M2</text><text x="481" y="965.6">SPI1_CS0_M1</text>
    <text x="384.5" y="973.1">I2C6_SDA_M3</text>
  </g>

  <!-- function tags (right) -->
  <g>
    <rect x="519" y="856.6" width="48" height="5.6" fill="#c8532e"/>
    <rect x="570" y="856.6" width="47" height="5.6" fill="#f4a6c6"/>
    <rect x="519" y="864.1" width="48" height="5.6" fill="#c8532e"/>
    <rect x="570" y="864.1" width="47" height="5.6" fill="#f4a6c6"/>
    <rect x="620" y="871.6" width="48" height="5.6" fill="#f4a6c6"/>
    <rect x="519" y="886.5" width="48" height="5.6" fill="#f4a6c6"/>
    <rect x="570" y="886.5" width="47" height="5.6" fill="#f2a444"/>
    <rect x="620" y="886.5" width="48" height="5.6" fill="#f4a6c6"/>
    <rect x="519" y="916.4" width="48" height="5.6" fill="#f4a6c6"/>
    <rect x="519" y="923.8" width="48" height="5.6" fill="#f4a6c6"/>
    <rect x="519" y="931.3" width="48" height="5.6" fill="#c8532e"/>
    <rect x="570" y="931.3" width="47" height="5.6" fill="#f4a6c6"/>
    <rect x="519" y="946.3" width="48" height="5.6" fill="#f2a444"/>
    <rect x="570" y="946.3" width="47" height="5.6" fill="#f4a6c6"/>
    <rect x="570" y="961.2" width="47" height="5.6" fill="#f4a6c6"/>
    <rect x="519" y="968.7" width="48" height="5.6" fill="#f4a6c6"/>
    <rect x="519" y="976.1" width="48" height="5.6" fill="#f4a6c6"/>
  </g>
  <g font-size="4.2" font-weight="bold" fill="#fff" text-anchor="middle">
    <text x="543" y="861.0">UART1_TX_M1</text><text x="593.5" y="861.0">I2C5_SCL_M3</text>
    <text x="543" y="868.5">UART1_RX_M1</text><text x="593.5" y="868.5">I2C5_SDA_M3</text>
    <text x="644" y="876.0">I2C8_SCL_M2</text>
    <text x="543" y="890.9">I2C4_SCL_M3</text><text x="593.5" y="890.9">PWM3_M2</text><text x="644" y="890.9">SPI4_CS0_M1</text>
    <text x="543" y="920.8">SPI0_CS0_M2</text>
    <text x="543" y="928.2">SPI0_CS1_M2</text>
    <text x="543" y="935.7">UART3_TX_M1</text><text x="593.5" y="935.7">I2C3_SCL_M0</text>
    <text x="543" y="950.7">PWM2_M1</text><text x="593.5" y="950.7">I2C5_SDA_M0</text>
    <text x="593.5" y="965.6">I2C6_SCL_M3</text>
    <text x="543" y="973.1">SPI1_MISO_M1</text>
    <text x="543" y="980.5">SPI1_MOSI_M1</text>
  </g>

  <!-- tiny marks at bottom -->
  <rect x="446" y="988" width="4" height="2" fill="#222"/>
  <rect x="458" y="987" width="8" height="2.5" fill="#222"/>
</svg>
</body>
</html>
